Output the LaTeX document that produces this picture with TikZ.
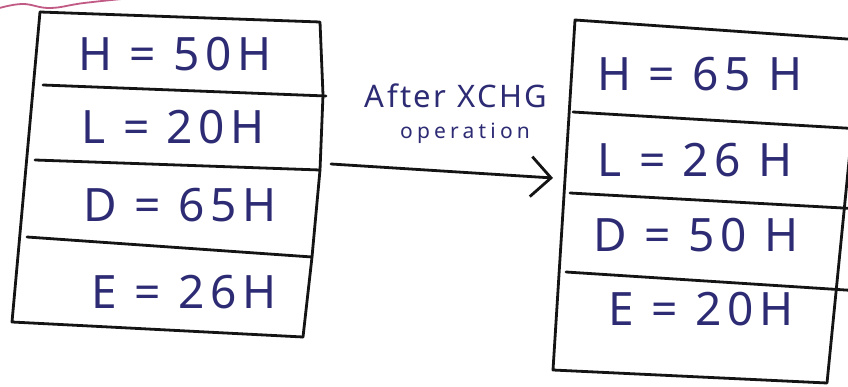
\documentclass[tikz,border=0pt]{standalone}
\usepackage{fontspec}
\usetikzlibrary{arrows.meta}
\newfontfamily\inkfont[LetterSpace=12]{Noto Sans}
\newfontfamily\noteink[LetterSpace=8]{Noto Sans}
\newfontfamily\smallink[LetterSpace=20]{Noto Sans}
\definecolor{ink}{HTML}{2D2B73}
\definecolor{pen}{HTML}{141414}
\definecolor{marker}{HTML}{C25A86}
\tikzset{
  frame/.style={draw=pen, line width=2.8pt, line cap=round, line join=round},
  entry/.style={text=ink, inner sep=0pt, font=\inkfont\fontsize{46}{48}\selectfont},
  note/.style={text=ink, inner sep=0pt, font=\noteink\fontsize{31}{33}\selectfont},
  subnote/.style={text=ink, inner sep=0pt, font=\smallink\fontsize{21}{23}\selectfont},
  swaparrow/.style={draw=pen, line width=2.8pt, line cap=round,
    -{Straight Barb[length=20pt, width=40pt, line width=2.8pt]}},
  underline/.style={draw=marker, line width=1.8pt, line cap=round}
}
\begin{document}
\begin{tikzpicture}[x=1pt, y=-1pt]
\useasboundingbox (0,0) rectangle (848,387);
\fill[white] (0,0) rectangle (848,387);
\clip (0,0) rectangle (848,387);

% wavy underline left over from the line above
\draw[underline] plot[smooth, tension=0.7] coordinates {(-4,9) (22,4) (50,8) (84,3) (132,-2)};

% register table before the exchange
\coordinate (a-tl) at (40,12);
\coordinate (a-tr) at (320,22);
\coordinate (a-br) at (303,337);
\coordinate (a-bl) at (12,322);
\draw[frame] (a-tl) -- (a-tr) -- (323,95) -- (320,170) -- (312,257) -- (a-br);
\draw[frame] (a-tl) -- (a-bl) -- (a-br);
\draw[frame] (43,85) -- (326,96);
\draw[frame] (35,160) -- (320,170);
\draw[frame] (27,237) -- (312,257);

\node[entry] (ah) at (175,54) {H = 50H};
\node[entry] (al) at (173,127) {L = 20H};
\node[entry] (ad) at (180,205) {D = 65H};
\node[entry] (ae) at (184,292) {E = 26H};

% register table after the exchange
\coordinate (b-tl) at (575,20);
\coordinate (b-tr) at (861,40);
\coordinate (b-br) at (827,383);
\coordinate (b-bl) at (553,370);
\draw[frame] (b-tl) -- (b-tr) -- (b-br) -- (b-bl) -- cycle;
\draw[frame] (573,112) -- (861,129);
\draw[frame] (570,193) -- (861,209);
\draw[frame] (566,272) -- (861,291);

\node[entry] (bh) at (700,74) {H = 65 H};
\node[entry] (bl) at (695,160) {L = 26 H};
\node[entry] (bd) at (696,235) {D = 50 H};
\node[entry] (be) at (701,309) {E = 20H};

% exchange arrow and its caption
\coordinate (go-from) at (331,164);
\coordinate (go-to) at (553,178);
\draw[swaparrow] (go-from) -- (go-to);
\node[note] (cap1) at (456,96) {After XCHG};
\node[subnote] (cap2) at (465,133) {operation};
\end{tikzpicture}
\end{document}
